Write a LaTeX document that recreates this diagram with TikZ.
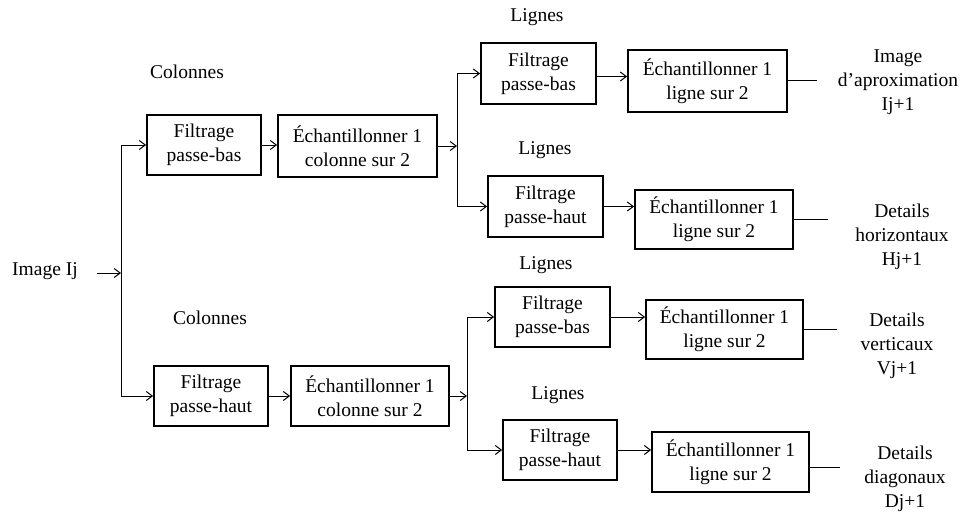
\documentclass[tikz,border=0pt]{standalone}
\usepackage{fontspec}
\setmainfont{Liberation Serif}
\usetikzlibrary{arrows.meta}
\begin{document}
\begin{tikzpicture}[x=1pt,y=-1pt,
  every node/.style={font=\rmfamily\fontsize{19.5}{24}\selectfont, align=center, inner sep=0pt},
  blockbox/.style={draw, line width=1.8pt, minimum width=#1, minimum height=60pt},
  blockbox/.default=115pt,
  conn/.style={line width=1pt},
  arr/.style={conn, -{Straight Barb[length=6pt,width=9pt,line width=1pt]}},
  lbl/.style={}]
\useasboundingbox (0,0) rectangle (963,515);

% input
\node (img) at (45,271) {Image Ij};
\coordinate (trunk) at (121,273);
\coordinate (imgout) at (97,273);

% column stage, low pass branch
\node[blockbox=114pt] (fb1) at (204,145) {Filtrage\\passe-bas};
\node[blockbox=159pt, minimum height=62pt] (ec1) at (357.5,146) {Échantillonner 1\\colonne sur 2};
\node[lbl] (col1) at (187,72) {Colonnes};
\coordinate (fork1) at (457,146);

% column stage, high pass branch
\node[blockbox=114pt] (fbh2) at (211,396) {Filtrage\\passe-haut};
\node[blockbox=158pt] (ec2) at (370,396) {Échantillonner 1\\colonne sur 2};
\node[lbl] (col2) at (210,318) {Colonnes};
\coordinate (fork2) at (467,396);

% row stage after low pass columns
\node[blockbox=115pt, minimum height=61pt] (fbl1) at (538.5,73.5) {Filtrage\\passe-bas};
\node[blockbox=159pt, minimum height=62pt] (els1) at (707.5,81) {Échantillonner 1\\ligne sur 2};
\node[lbl] (lig1) at (537,17) {Lignes};
\node[blockbox=115pt, minimum height=61pt] (fbh1) at (545.5,206.5) {Filtrage\\passe-haut};
\node[blockbox=158pt, minimum height=59pt] (els2) at (714,219.5) {Échantillonner 1\\ligne sur 2};
\node[lbl] (lig2) at (545,150) {Lignes};

% row stage after high pass columns
\node[blockbox=115pt] (fbl2) at (552.5,317) {Filtrage\\passe-bas};
\node[blockbox=157pt, minimum height=59pt] (els3) at (724.5,329.5) {Échantillonner 1\\ligne sur 2};
\node[lbl] (lig3) at (546,265) {Lignes};
\node[blockbox=114pt] (fbh3) at (560,450) {Filtrage\\passe-haut};
\node[blockbox=157pt] (els4) at (730.5,462) {Échantillonner 1\\ligne sur 2};
\node[lbl] (lig4) at (558,395) {Lignes};

% outputs
\coordinate (o1) at (817,80);
\coordinate (o2) at (828,219);
\coordinate (o3) at (837,329);
\coordinate (o4) at (840,467);
\node (out1) at (898,82) {Image\\d’aproximation\\Ij+1};
\node (out2) at (902,237) {Details\\horizontaux\\Hj+1};
\node (out3) at (897,346) {Details\\verticaux\\Vj+1};
\node (out4) at (905,479) {Details\\diagonaux\\Dj+1};

% connectors
\draw[arr] (imgout) -- (trunk);
\draw[arr] (trunk) |- (fb1.west);
\draw[arr] (trunk) |- (fbh2.west);
\draw[arr] (fb1.east) -- (fb1.east -| ec1.west);
\draw[arr] (fbh2.east) -- (ec2.west);
\draw[arr] (ec1.east) -- (fork1);
\draw[arr] (ec2.east) -- (fork2);
\draw[arr] (fork1) |- (fbl1.west);
\draw[arr] (fork1) |- (fbh1.west);
\draw[arr] (fork2) |- (fbl2.west);
\draw[arr] (fork2) |- (fbh3.west);
\draw[arr] ([yshift=-3pt]fbl1.east) -- ([yshift=-3pt]fbl1.east -| els1.west);
\draw[arr] (fbh1.east) -- (fbh1.east -| els2.west);
\draw[arr] (fbl2.east) -- (fbl2.east -| els3.west);
\draw[arr] (fbh3.east) -- (fbh3.east -| els4.west);
\draw[conn] (els1.east |- o1) -- (o1);
\draw[conn] (els2.east |- o2) -- (o2);
\draw[conn] (els3.east |- o3) -- (o3);
\draw[conn] (els4.east |- o4) -- (o4);
\end{tikzpicture}
\end{document}
